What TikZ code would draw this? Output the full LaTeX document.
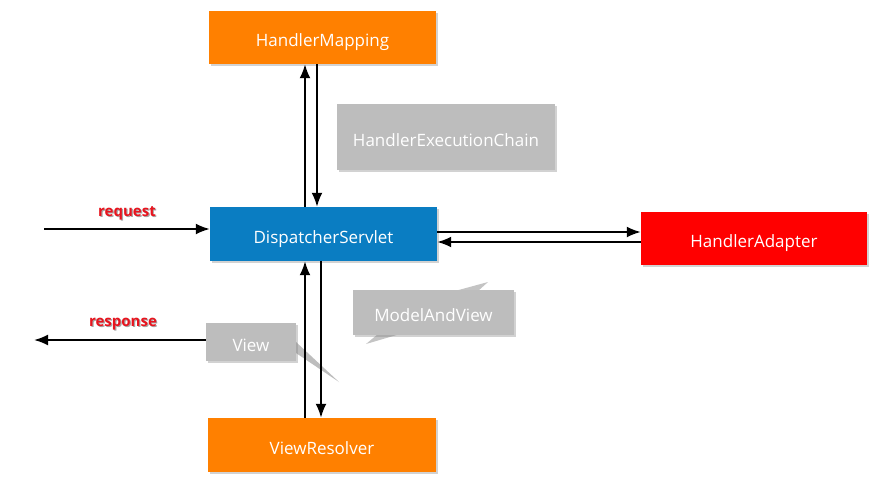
\documentclass[tikz,border=0pt]{standalone}
\usepackage{fontspec}
\setmainfont{Open Sans}
\usetikzlibrary{shadows,arrows.meta}
\definecolor{orng}{HTML}{FF8000}
\definecolor{blu}{HTML}{0A7DC2}
\definecolor{rd}{HTML}{FF0000}
\definecolor{gry}{HTML}{BDBDBD}
\definecolor{lblred}{HTML}{E8141E}
\begin{document}
\begin{tikzpicture}[x=1pt,y=-1pt,
  box/.style={draw=none, text=white, font=\fontsize{17}{18}\selectfont,
    inner sep=0pt, text height=18pt, text depth=0pt,
    drop shadow={shadow xshift=2pt, shadow yshift=-2pt, opacity=0.35}},
  arr/.style={line width=2pt, -{Latex[length=14pt,width=11pt]}},
  lbl/.style={font=\fontsize{15}{17}\selectfont\bfseries, text=lblred, inner sep=1pt},
  lblsh/.style={font=\fontsize{15}{17}\selectfont\bfseries, text=black!35, inner sep=1pt}
]
\useasboundingbox (0,0) rectangle (884,501);
\fill[white] (0,0) rectangle (884,501);

% callout tails (behind boxes)
\fill[gry] (296,342) -- (339,382) -- (296,353) -- cycle;
\fill[gry!90!white] (455,291) -- (488,282) -- (478,291) -- cycle;
\fill[gry!90!white] (378,334) -- (366,344) -- (400,334) -- cycle;

% boxes
\node[box, fill=orng, minimum width=227pt, minimum height=53pt] (hm) at (322.5,37.5) {HandlerMapping};
\node[box, fill=gry, minimum width=218pt, minimum height=66pt] (hec) at (446,137) {HandlerExecutionChain};
\node[box, fill=blu, minimum width=227pt, minimum height=54pt] (ds) at (323.5,234) {DispatcherServlet};
\node[box, fill=rd, minimum width=226pt, minimum height=53pt] (ha) at (754,238.5) {HandlerAdapter};
\node[box, fill=gry, minimum width=90pt, minimum height=38pt] (view) at (251,342) {View};
\node[box, fill=gry, minimum width=161pt, minimum height=45pt] (mav) at (433.5,312.5) {ModelAndView};
\node[box, fill=orng, minimum width=228pt, minimum height=54pt] (vr) at (322,445) {ViewResolver};

% guide coordinates
\coordinate (xa) at (305,0);
\coordinate (xb) at (317,0);
\coordinate (xc) at (321,0);
\coordinate (ya) at (0,232);
\coordinate (yb) at (0,242);
\coordinate (reqs) at (44,229);
\coordinate (resp) at (34,340);

% DS <-> HM
\draw[arr] (ds.north -| xa) -- (hm.south -| xa);
\draw[arr] (hm.south -| xb) -- (ds.north -| xb);
% DS <-> VR
\draw[arr] (vr.north -| xa) -- (ds.south -| xa);
\draw[arr] (ds.south -| xc) -- (vr.north -| xc);
% DS <-> HA
\draw[arr] (ds.east |- ya) -- (ha.west |- ya);
\draw[arr] (ha.west |- yb) -- (ds.east |- yb);
% request / response
\draw[arr] (reqs) -- (ds.west |- reqs);
\draw[arr] (view.west |- resp) -- (resp);

% labels
\node[lblsh] at (128.2,214.2) {request};
\node[lbl] (lreq) at (127,213) {request};
\node[lblsh] at (124.2,325.2) {response};
\node[lbl] (lresp) at (123,324) {response};
\end{tikzpicture}
\end{document}
